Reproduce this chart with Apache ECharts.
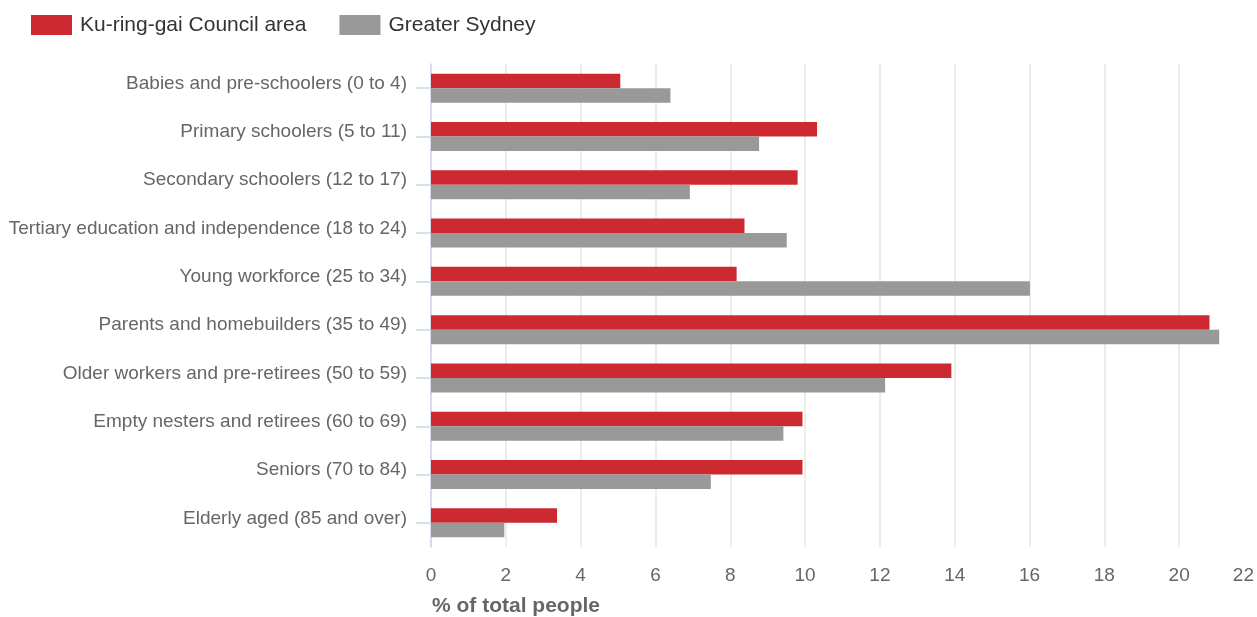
<!DOCTYPE html>
<html>
<head>
<meta charset="utf-8">
<script src="https://cdn.jsdelivr.net/npm/echarts@6/dist/echarts.min.js"></script>
<style>
  html, body { margin: 0; padding: 0; background: #fff; }
  #chart { width: 1257px; height: 617px; }
</style>
</head>
<body>
<div id="chart"></div>
<script>
// Service age groups, top to bottom
const categories = [
  'Babies and pre-schoolers (0 to 4)',
  'Primary schoolers (5 to 11)',
  'Secondary schoolers (12 to 17)',
  'Tertiary education and independence (18 to 24)',
  'Young workforce (25 to 34)',
  'Parents and homebuilders (35 to 49)',
  'Older workers and pre-retirees (50 to 59)',
  'Empty nesters and retirees (60 to 69)',
  'Seniors (70 to 84)',
  'Elderly aged (85 and over)'
];

// % of total people
const kuringgai = [5.06, 10.32, 9.80, 8.38, 8.17, 20.81, 13.91, 9.93, 9.93, 3.37];
const greaterSydney = [6.40, 8.77, 6.92, 9.51, 16.01, 21.07, 12.14, 9.42, 7.48, 1.96];

const seriesNames = ['Ku-ring-gai Council area', 'Greater Sydney'];
const axisTitle = '% of total people';

const FONT = '"Liberation Sans", Arial, Helvetica, sans-serif';

const chart = echarts.init(document.getElementById('chart'), null, { renderer: 'canvas' });

chart.setOption({
  animation: false,
  textStyle: { fontFamily: FONT },
  color: ['#cc2a30', '#999999'],
  legend: {
    left: 31,
    top: 14.5,
    padding: 0,
    itemWidth: 41,
    itemHeight: 20,
    itemGap: 33,
    icon: 'rect',
    textStyle: { fontFamily: FONT, fontSize: 21, color: '#333333', padding: [0, 0, 0, 3] },
    data: seriesNames
  },
  title: {
    text: axisTitle,
    left: 432,
    top: 596,
    padding: 0,
    textStyle: { fontFamily: FONT, fontSize: 21, fontWeight: 'bold', color: '#666666' }
  },
  grid: {
    left: 431,
    right: 0,
    top: 64,
    bottom: 70,
    containLabel: false
  },
  xAxis: {
    type: 'value',
    min: 0,
    max: 22,
    interval: 2,
    axisLine: { show: false },
    axisTick: { show: false },
    axisLabel: {
      fontFamily: FONT,
      fontSize: 19,
      color: '#666666',
      margin: 19,
      alignMaxLabel: 'right'
    },
    splitLine: { show: true, showMaxLine: false, lineStyle: { color: '#e6e6e6', width: 1.5 } }
  },
  yAxis: {
    type: 'category',
    inverse: true,
    data: categories,
    axisLine: { show: true, lineStyle: { color: '#ccd6eb', width: 1.5 } },
    axisTick: { show: true, alignWithLabel: true, length: 15, lineStyle: { color: '#ccd6eb', width: 1.5 } },
    axisLabel: {
      fontFamily: FONT,
      fontSize: 19,
      color: '#666666',
      margin: 24,
      verticalAlign: 'bottom',
      lineHeight: 9
    }
  },
  series: [
    {
      name: seriesNames[0],
      type: 'bar',
      data: kuringgai,
      barGap: '0%',
      barCategoryGap: '40%',
      itemStyle: { color: '#cc2a30' }
    },
    {
      name: seriesNames[1],
      type: 'bar',
      data: greaterSydney,
      barGap: '0%',
      barCategoryGap: '40%',
      itemStyle: { color: '#999999' }
    }
  ]
});
</script>
</body>
</html>
